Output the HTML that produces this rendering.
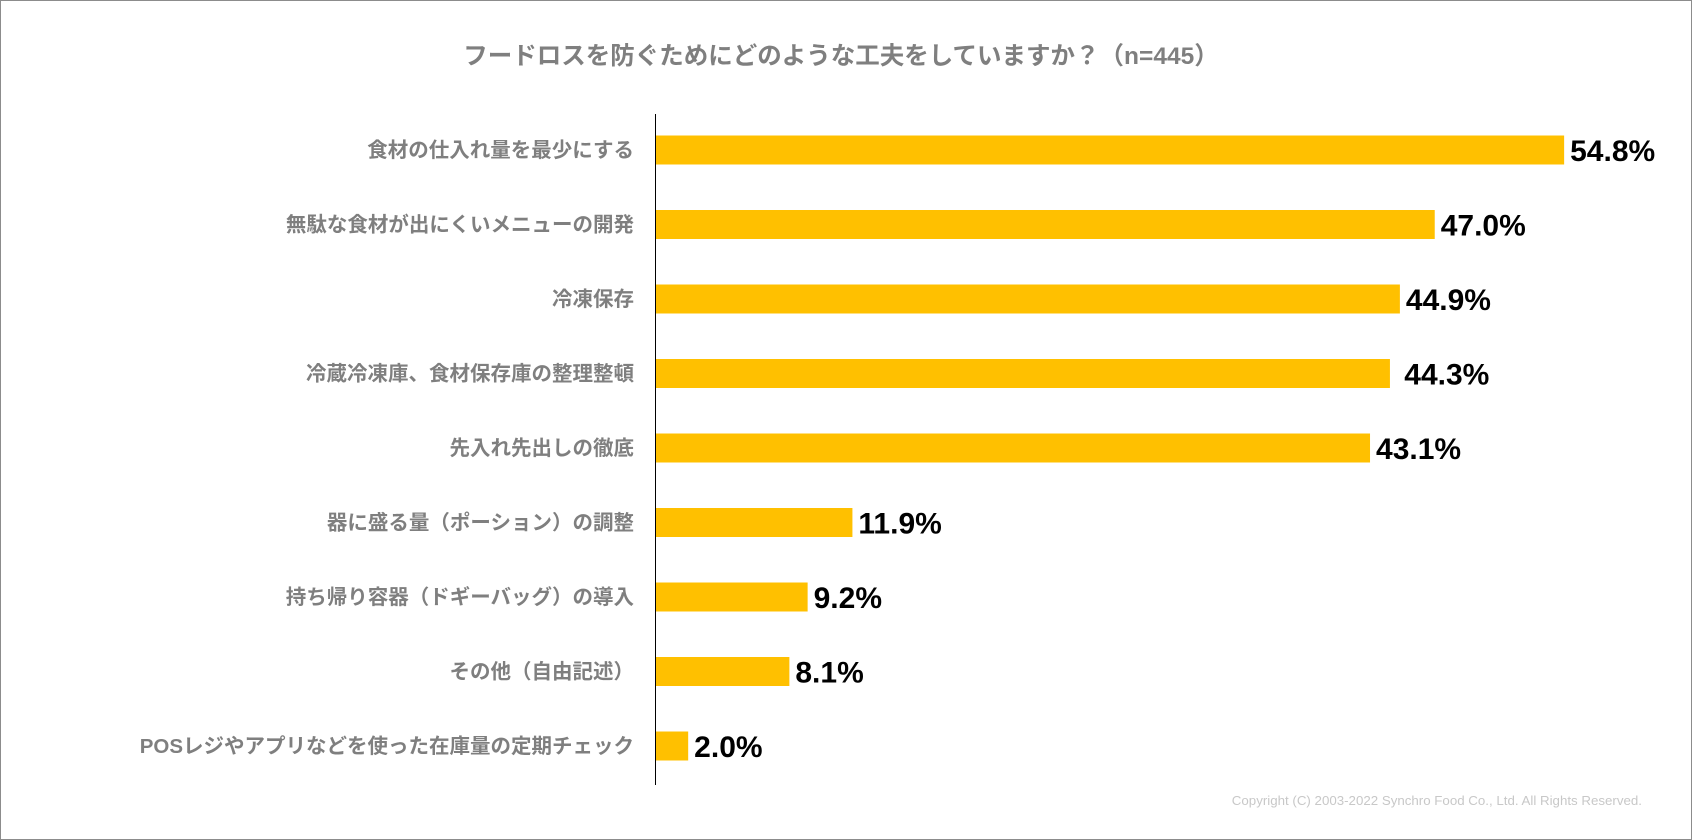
<!DOCTYPE html>
<html><head><meta charset="utf-8"><style>
body{margin:0;background:#fff}
#wrap{position:relative;width:1690px;height:838px;border:1px solid #8c8c8c;overflow:hidden;font-family:"Liberation Sans","Noto Sans CJK JP",sans-serif}
</style></head><body>
<div id="wrap">
<svg id="chart" width="1690" height="838"></svg>
</div>
<script>
const categories=["食材の仕入れ量を最少にする","無駄な食材が出にくいメニューの開発","冷凍保存","冷蔵冷凍庫、食材保存庫の整理整頓","先入れ先出しの徹底","器に盛る量（ポーション）の調整","持ち帰り容器（ドギーバッグ）の導入","その他（自由記述）","POSレジやアプリなどを使った在庫量の定期チェック"];
const values=[54.8,47.0,44.9,44.3,43.1,11.9,9.2,8.1,2.0];
const valueLabels=["54.8%","47.0%","44.9%"," 44.3%","43.1%","11.9%","9.2%","8.1%","2.0%"];
const NS="http://www.w3.org/2000/svg";
const svg=document.getElementById('chart');
const x0=654, pxPer=16.59, yTop=113, step=74.5, bh=29;
const xs=v=>x0+v*pxPer;
const yc=i=>149+i*step;
function mk(t,a){const e=document.createElementNS(NS,t);for(const k in a)e.setAttribute(k,a[k]);svg.appendChild(e);return e;}
const title=mk('text',{x:840,y:63,'text-anchor':'middle','font-size':24.5,fill:'#7f7f7f','font-weight':'bold'});
title.textContent="フードロスを防ぐためにどのような工夫をしていますか？（n=445）";


categories.forEach((c,i)=>{
  const r=mk('rect',{x:x0,y:yc(i)-bh/2,width:xs(values[i])-x0,height:bh,fill:'#ffc000'});
  
  
  const l=mk('text',{x:633,y:yc(i)+7,'text-anchor':'end','font-size':20.5,'font-weight':'bold',fill:'#7f7f7f'});
  l.textContent=c;
  
  
  const v=mk('text',{x:xs(values[i])+6,y:yc(i)+11,'font-size':30,'font-weight':'bold',fill:'#000'});
  v.setAttribute('style','white-space:pre');
  v.textContent=valueLabels[i];
  
  
});
const ax=mk('line',{x1:x0+0.5,x2:x0+0.5,y1:yTop,y2:784,stroke:'#000','stroke-width':1});


const cp=mk('text',{x:1641,y:804,'text-anchor':'end','font-size':13.3,fill:'#c8c8c8'});
cp.textContent="Copyright (C) 2003-2022  Synchro Food Co., Ltd. All Rights Reserved.";


</script>
</body></html>
